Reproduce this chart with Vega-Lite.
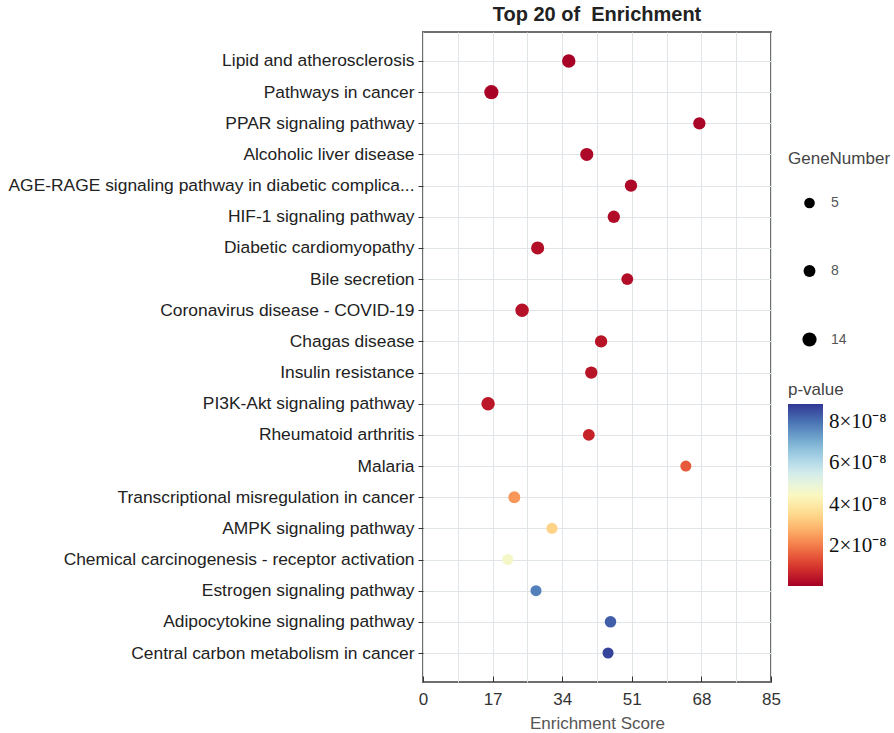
{
  "$schema": "https://vega.github.io/schema/vega-lite/v6.json",
  "width": 348,
  "height": 650,
  "padding": {"left": 8, "top": 5, "right": 5, "bottom": 5},
  "title": {"text": "Top 20 of\u00a0 Enrichment", "fontSize": 20, "fontWeight": "bold", "font": "Liberation Sans", "color": "#222222", "anchor": "middle", "offset": 7},
  "config": {"view": {"stroke": "#6e6e6e", "strokeWidth": 2}, "font": "Liberation Sans"},
  "data": {"values": [
    {"term": "Lipid and atherosclerosis", "score": 35.6, "genes": 12, "p": 1.0e-9},
    {"term": "Pathways in cancer", "score": 16.7, "genes": 14, "p": 1.0e-9},
    {"term": "PPAR signaling pathway", "score": 67.5, "genes": 9, "p": 1.5e-9},
    {"term": "Alcoholic liver disease", "score": 40.0, "genes": 11, "p": 2.0e-9},
    {"term": "AGE-RAGE signaling pathway in diabetic complica...", "score": 50.8, "genes": 9, "p": 2.0e-9},
    {"term": "HIF-1 signaling pathway", "score": 46.6, "genes": 9, "p": 2.5e-9},
    {"term": "Diabetic cardiomyopathy", "score": 28.0, "genes": 11, "p": 3.0e-9},
    {"term": "Bile secretion", "score": 49.9, "genes": 8, "p": 3.0e-9},
    {"term": "Coronavirus disease - COVID-19", "score": 24.2, "genes": 12, "p": 3.5e-9},
    {"term": "Chagas disease", "score": 43.5, "genes": 9, "p": 4.0e-9},
    {"term": "Insulin resistance", "score": 41.1, "genes": 9, "p": 4.0e-9},
    {"term": "PI3K-Akt signaling pathway", "score": 15.9, "genes": 12, "p": 4.5e-9},
    {"term": "Rheumatoid arthritis", "score": 40.5, "genes": 8, "p": 6.5e-9},
    {"term": "Malaria", "score": 64.2, "genes": 6, "p": 1.5e-8},
    {"term": "Transcriptional misregulation in cancer", "score": 22.3, "genes": 8, "p": 2.4e-8},
    {"term": "AMPK signaling pathway", "score": 31.5, "genes": 6, "p": 3.4e-8},
    {"term": "Chemical carcinogenesis - receptor activation", "score": 20.7, "genes": 6, "p": 4.6e-8},
    {"term": "Estrogen signaling pathway", "score": 27.6, "genes": 6, "p": 7.8e-8},
    {"term": "Adipocytokine signaling pathway", "score": 45.8, "genes": 7, "p": 8.3e-8},
    {"term": "Central carbon metabolism in cancer", "score": 45.2, "genes": 6, "p": 8.7e-8}
  ]},
  "mark": {"type": "circle", "opacity": 1},
  "encoding": {
    "y": {
      "field": "term", "type": "nominal", "sort": null,
      "scale": {"type": "point", "padding": 0.93},
      "axis": {"title": null, "labelFontSize": 17.4, "labelColor": "#222222", "labelLimit": 600, "labelPadding": 4, "tickSize": 5, "tickColor": "#333333", "domain": false, "grid": true, "gridColor": "#e0e5e8"}
    },
    "x": {
      "field": "score", "type": "quantitative",
      "scale": {"domain": [0, 85], "nice": false},
      "axis": {
        "title": "Enrichment Score", "titleFontSize": 17, "titleFontWeight": "normal", "titleColor": "#555555", "titlePadding": 8,
        "values": [0, 8.5, 17, 25.5, 34, 42.5, 51, 59.5, 68, 76.5, 85],
        "labelExpr": "datum.value % 17 === 0 ? format(datum.value, 'd') : ''",
        "labelFontSize": 17, "labelColor": "#333333", "labelPadding": 15,
        "tickSize": -6, "tickColor": "#333333",
        "tickOpacity": {"condition": {"test": "datum.value % 17 === 0", "value": 1}, "value": 0},
        "domain": false, "grid": true, "gridColor": "#e0e5e8", "labelFlush": false
      }
    },
    "size": {
      "field": "genes", "type": "quantitative",
      "scale": {"domain": [5, 14], "range": [113, 201], "zero": false},
      "legend": {
        "title": "GeneNumber", "orient": "none", "legendX": 365, "legendY": 119,
        "values": [5, 8, 14], "titleFontSize": 17, "titleFontWeight": "normal", "titleColor": "#444444",
        "titlePadding": 28, "symbolFillColor": "#000000", "symbolStrokeWidth": 0, "symbolOpacity": 1,
        "labelFontSize": 14, "labelColor": "#555555", "rowPadding": 54, "symbolOffset": 14, "labelOffset": 14
      }
    },
    "color": {
      "field": "p", "type": "quantitative",
      "scale": {"scheme": "redyellowblue", "domain": [5e-10, 8.88e-8]},
      "legend": {
        "title": "p-value", "orient": "none", "legendX": 365, "legendY": 350, "direction": "vertical",
        "values": [2e-8, 4e-8, 6e-8, 8e-8],
        "labelExpr": "round(datum.value * 1e8) + '×10⁻⁸'",
        "titleFontSize": 17, "titleFontWeight": "normal", "titleColor": "#444444", "titlePadding": 5,
        "gradientLength": 182, "gradientThickness": 35, "gradientStrokeWidth": 0,
        "labelFont": "Liberation Serif", "labelFontSize": 21, "labelColor": "#111111", "labelOffset": 6
      }
    }
  }
}
